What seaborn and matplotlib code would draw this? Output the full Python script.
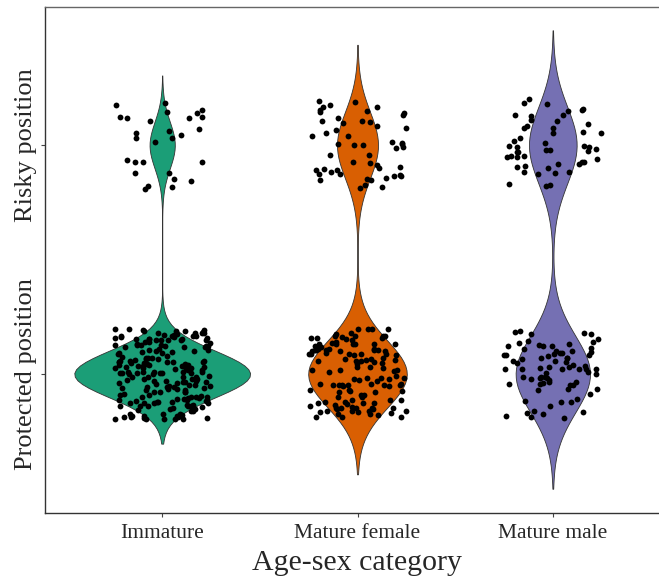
import numpy as np
import pandas as pd
import matplotlib
matplotlib.use("Agg")
import matplotlib.pyplot as plt
import seaborn as sns

# ---- data ----
categories = ["Immature", "Mature female", "Mature male"]
n_protected = [195, 125, 78]
n_risky = [28, 52, 50]
colors = ["#1B9E77", "#D95F02", "#7570B3"]
y_tick_values = [0, 1]
y_tick_labels = ["Protected position", "Risky position"]
x_label = "Age-sex category"

# long-form table of the 0/1 outcomes
rows = []
for cat, n0, n1 in zip(categories, n_protected, n_risky):
    for v in np.repeat([0, 1], [n0, n1]):
        rows.append((cat, v))
df = pd.DataFrame(rows, columns=["category", "position"])

# jitter as in the original (geom_jitter) -- presentation only
rng = np.random.default_rng(7)
np.random.seed(11)
df["position_jit"] = df["position"] + rng.uniform(-0.2, 0.2, len(df))

sns.set_theme(style="white")
plt.rcParams["font.family"] = ["Liberation Serif", "DejaVu Serif"]

fig = plt.figure(figsize=(6.59, 5.79), dpi=100)
ax = fig.add_axes([45 / 659, 66 / 579, 625 / 659, 506 / 579])

sns.violinplot(data=df, x="category", y="position", hue="category",
               order=categories, hue_order=categories, palette=colors,
               bw_method="scott", bw_adjust=0.9, cut=3, density_norm="area",
               common_norm=True,
               width=0.9, inner=None, linewidth=0.6, linecolor="#333333",
               saturation=1, legend=False, ax=ax)
sns.stripplot(data=df, x="category", y="position_jit", order=categories,
              jitter=0.25, color="black", size=4.2, linewidth=0, ax=ax)

ax.set_xlim(-0.6, 2.6)
ax.set_ylim(-0.607, 1.603)
ax.set_yticks(y_tick_values)
ax.set_yticklabels(y_tick_labels, rotation=90, va="center", fontsize=19)
ax.set_xticks(range(len(categories)))
ax.set_xticklabels(categories, fontsize=15.5)
ax.set_xlabel(x_label, fontsize=21.5, labelpad=5)
ax.set_ylabel("")
ax.tick_params(axis="both", which="major", length=3, width=0.8,
               color="#444444", direction="out", left=True, bottom=True)
ax.tick_params(axis="y", pad=3)
ax.tick_params(axis="x", pad=5)
for side in ["left", "bottom", "top", "right"]:
    ax.spines[side].set_visible(True)
    ax.spines[side].set_color("#333333")
    ax.spines[side].set_linewidth(1.0)
ax.spines["top"].set_color("#666666")

fig.savefig("out.png", dpi=100)
